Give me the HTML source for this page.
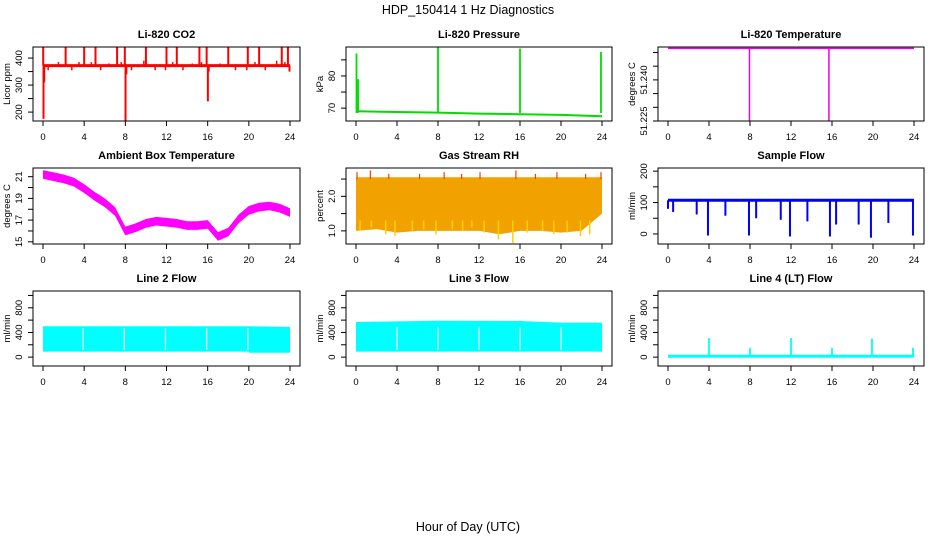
<!DOCTYPE html>
<html><head><meta charset="utf-8"><style>
html,body{margin:0;padding:0;background:#fff;}
svg{display:block;font-family:"Liberation Sans",Arial,sans-serif;}
.t{font-size:11px;font-weight:bold;}
.k{font-size:9.5px;}
.yl{font-size:9.5px;}
</style></head><body>
<svg id="c" width="936" height="540" viewBox="0 0 936 540">
<text x="468" y="14" text-anchor="middle" font-size="12.5">HDP_150414  1 Hz Diagnostics</text>
<text x="468" y="531" text-anchor="middle" font-size="12.5">Hour of Day (UTC)</text>
</svg>
<script>
// ---- data ----
const xTicks=[0,4,8,12,16,20,24];
const co2Base=[[0,372],[24,372]];
const co2Spikes=[[0.02,440],[0.05,175],[0.12,310],[2.2,440],[4,440],[5.1,440],[7.2,440],[7.95,440],[8.02,165],[8.1,340],[10,440],[12,440],[13,440],[15.2,440],[15.9,440],[16.02,240],[16.1,350],[18,440],[19.9,440],[21,440],[23.2,440],[23.8,440],[23.95,350]];
const co2Bumps=[[0.5,355],[1.5,385],[2.8,355],[3.5,385],[4.7,385],[5.6,355],[6.4,380],[7.6,385],[8.6,355],[9.8,390],[10.9,355],[11.9,355],[12.6,385],[13.6,355],[14.5,380],[15.4,385],[17.2,380],[18.7,355],[19.8,355],[20.6,385],[21.6,355],[22.7,390],[23.5,385]];
const presBase=[[0.1,69],[4,68.8],[8,68.6],[12,68.3],[16,68.1],[20,67.9],[24,67.5]];
const presSpikes=[[0.05,87],[0.2,79],[8,89],[16,88.5],[23.9,87.5]];
const tempBase=[[0,51.2515],[24,51.2515]];
const tempDrops=[[7.95,51.225],[15.7,51.225]];
const ambHours=[0,1,2,3,4,5,6,7,8,9,10,11,12,13,14,15,16,17,18,19,20,21,22,23,24];
const ambVals=[21.2,21.0,20.8,20.5,19.9,19.2,18.6,17.8,16.0,16.3,16.7,16.9,16.8,16.7,16.5,16.5,16.6,15.5,15.9,17.1,17.9,18.2,18.3,18.1,17.7];
const rhHours=[0,2,4,6,8,10,12,14,16,18,20,22,24];
const rhLow=[1.0,1.05,0.95,1.0,1.0,1.0,1.0,0.9,1.0,1.0,0.95,1.0,1.5];
const rhHigh=[2.55,2.55,2.55,2.55,2.55,2.55,2.55,2.55,2.55,2.55,2.55,2.55,2.55];
const rhDips=[[0.4,1.0],[1.5,1.1],[2.9,0.9],[3.8,0.85],[5.5,1.0],[6.6,1.05],[7.8,0.9],[9.4,1.05],[10.4,1.0],[11.3,1.1],[12.5,0.95],[13.9,0.75],[15.3,0.65],[16.7,0.95],[18.2,1.0],[19.3,0.9],[20.6,0.95],[21.9,0.85],[22.8,0.9]];
const rhPeaks=[[0.1,2.7],[1.4,2.75],[3.2,2.65],[6.2,2.65],[8.6,2.7],[10.3,2.65],[12.1,2.7],[15.6,2.75],[17.5,2.65],[19.6,2.7],[22.4,2.65],[23.9,2.7]];
const flowBase=[[0,107],[24,107]];
const flowDips=[[0,80],[0.5,70],[2.8,62],[3.9,-5],[5.6,58],[7.9,-5],[8.6,50],[11,45],[11.9,-8],[13.6,40],[15.8,-8],[16.4,30],[18.6,30],[19.8,-12],[21.5,35],[23.9,-5]];
const l2Hours=[0,20,20.01,24];
const l2Low=[90,90,70,70];
const l2High=[500,500,500,490];
const l2Gaps=[3.9,7.9,11.9,15.9,19.9];
const l3Hours=[0,8,16,20,24];
const l3Low=[90,90,90,90,90];
const l3High=[570,590,585,560,560];
const l3Gaps=[4,8,12,16,20];
const l4Base=[[0,15],[24,15]];
const l4Spikes=[[4,310],[8,150],[12,310],[16,150],[19.9,300],[23.9,150]];

// ---- layout ----
const svg=document.getElementById('c');
const NS='http://www.w3.org/2000/svg';
const cols=[{l:33,r:300,x0:43,x1:290},{l:346,r:612,x0:356,x1:602},{l:658,r:924,x0:668,x1:914}];
const rows=[{t:47,b:121},{t:168,b:244},{t:291,b:366}];
function mk(tag,attrs,parent){const e=document.createElementNS(NS,tag);for(const k in attrs)e.setAttribute(k,attrs[k]);(parent||svg).appendChild(e);return e;}
function panel(ci,ri,title,ylab,ymin,ymax,ticks,labels,name){
  const c=cols[ci],r=rows[ri];
  const g=mk('g',{});
  
  
  const xs=h=>c.x0+(c.x1-c.x0)*h/24;
  const ys=v=>r.b-(r.b-r.t)*(v-ymin)/(ymax-ymin);
  const tt=mk('text',{x:(c.l+c.r)/2,y:r.t-9,'text-anchor':'middle',class:'t'},g);tt.textContent=title;
  
  
  const yl=mk('text',{x:0,y:0,'text-anchor':'middle',class:'yl',transform:`translate(${c.l-23},${(r.t+r.b)/2}) rotate(-90)`},g);yl.textContent=ylab;
  
  
  const data=mk('g',{},g);
  const box=mk('rect',{x:c.l,y:r.t,width:c.r-c.l,height:r.b-r.t,fill:'none',stroke:'#000','stroke-width':1},g);
  
  
  const xa=mk('g',{},g);
  
  
  xTicks.forEach(h=>{mk('line',{x1:xs(h),x2:xs(h),y1:r.b,y2:r.b+5,stroke:'#000'},xa);
    const t=mk('text',{x:xs(h),y:r.b+19,'text-anchor':'middle',class:'k'},xa);t.textContent=h;});
  const ya=mk('g',{},g);
  
  
  const ax=c.l;
  ticks.forEach((v,i)=>{mk('line',{x1:ax-5,x2:ax,y1:ys(v),y2:ys(v),stroke:'#000'},ya);
    if(labels[i]!==''){const t=mk('text',{x:0,y:0,'text-anchor':'middle',class:'k',transform:`translate(${ax-11},${ys(v)}) rotate(-90)`},ya);t.textContent=labels[i];}});
  return {xs,ys,g:data};
}
function vline(p,h,v0,v1,col,w,nm){const l=mk('line',{x1:p.xs(h),x2:p.xs(h),y1:p.ys(v0),y2:p.ys(v1),stroke:col,'stroke-width':w||1.5},p.g);
  
  return l;}
function pline(p,pts,col,w,nm){const d=pts.map((q,i)=>(i?'L':'M')+p.xs(q[0]).toFixed(1)+','+p.ys(q[1]).toFixed(1)).join('');
  const e=mk('path',{d,fill:'none',stroke:col,'stroke-width':w||2},p.g);
  
  return e;}
function band(p,hs,lo,hi,col,nm){const up=hs.map((h,i)=>p.xs(h).toFixed(1)+','+p.ys(hi[i]).toFixed(1));
  const dn=hs.map((h,i)=>p.xs(h).toFixed(1)+','+p.ys(lo[i]).toFixed(1)).reverse();
  const e=mk('polygon',{points:up.concat(dn).join(' '),fill:col},p.g);
  
  return e;}

let p=panel(0,0,'Li-820 CO2','Licor ppm',167,441,[200,250,300,350,400],['200','','300','','400'],'co2');
pline(p,co2Base,'#f00',3,'co2-line');
co2Spikes.forEach(s=>vline(p,s[0],372,s[1],'#f00',2,'co2-spike'));
co2Bumps.forEach(s=>vline(p,s[0],372,s[1],'#f00',1.5,'co2-bump'));

p=panel(1,0,'Li-820 Pressure','kPa',66,89,[70,75,80,85],['70','','80',''],'pressure');
pline(p,presBase,'#0d0',2,'pressure-line');
presSpikes.forEach(s=>vline(p,s[0],68.5,s[1],'#0d0',1.8,'pressure-spike'));

p=panel(2,0,'Li-820 Temperature','degrees C',51.225,51.252,[51.225,51.230,51.235,51.240,51.245,51.250],['51.225','','','51.240','',''],'li820-temp');
pline(p,tempBase,'#e0e',1.5,'li820-temp-line');
tempDrops.forEach(s=>vline(p,s[0],51.2515,s[1],'#e0e',1.5,'li820-temp-drop'));

p=panel(0,1,'Ambient Box Temperature','degrees C',14.8,21.8,[15,16,17,18,19,20,21],['15','','17','','19','','21'],'ambient');
band(p,ambHours,ambVals.map(v=>v-0.4),ambVals.map(v=>v+0.4),'#f0f','ambient-band');

p=panel(1,1,'Gas Stream RH','percent',0.62,2.82,[1.0,1.5,2.0,2.5],['1.0','','2.0',''],'rh');
band(p,rhHours,rhLow,rhHigh,'#f2a200','rh-band');
rhDips.forEach(s=>vline(p,s[0],1.3,s[1],'#ffd000',1.5,'rh-dip'));
rhPeaks.forEach(s=>vline(p,s[0],2.5,s[1],'#f04000',1.2,'rh-peak'));

p=panel(2,1,'Sample Flow','ml/min',-32,210,[0,50,100,150,200],['0','','100','','200'],'sample-flow');
pline(p,flowBase,'#00f',3,'sample-flow-line');
flowDips.forEach(s=>vline(p,s[0],107,s[1],'#00f',2,'sample-flow-dip'));

p=panel(0,2,'Line 2 Flow','ml/min',-144,1072,[0,200,400,600,800,1000],['0','','400','','800',''],'line2');
band(p,l2Hours,l2Low,l2High,'#0ff','line2-band');
l2Gaps.forEach(h=>vline(p,h,120,470,'#fff',1.2,'line2-gap'));

p=panel(1,2,'Line 3 Flow','ml/min',-144,1072,[0,200,400,600,800,1000],['0','','400','','800',''],'line3');
band(p,l3Hours,l3Low,l3High,'#0ff','line3-band');
l3Gaps.forEach(h=>vline(p,h,120,480,'#fff',1.2,'line3-gap'));

p=panel(2,2,'Line 4 (LT) Flow','ml/min',-144,1072,[0,200,400,600,800,1000],['0','','400','','800',''],'line4');
pline(p,l4Base,'#0ff',3,'line4-line');
l4Spikes.forEach(s=>vline(p,s[0],15,s[1],'#0ff',1.8,'line4-spike'));
</script>
</body></html>
